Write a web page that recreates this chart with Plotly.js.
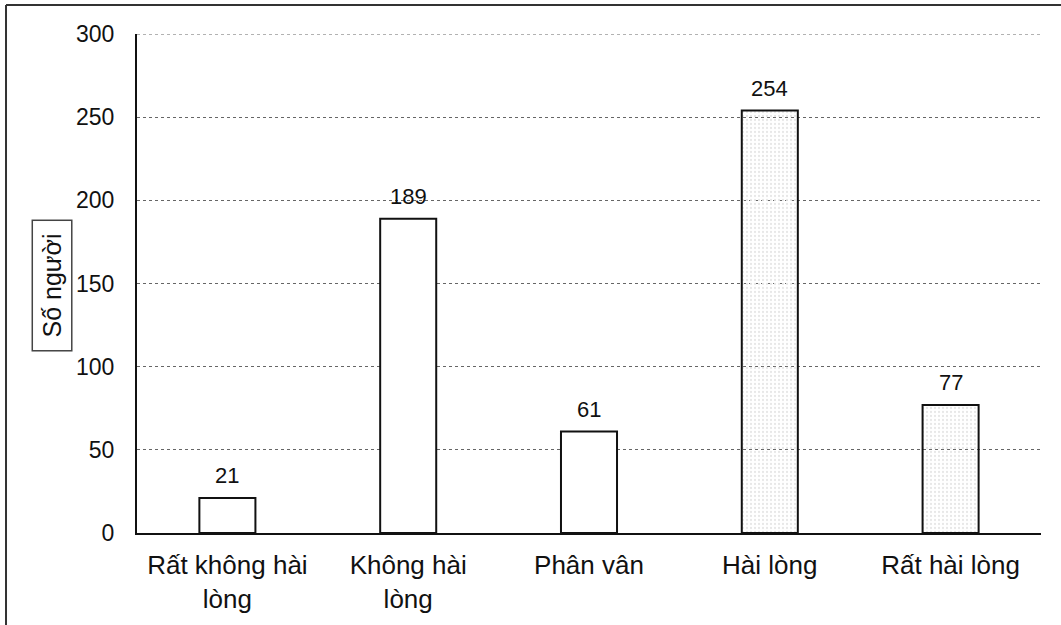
<!DOCTYPE html>
<html>
<head>
<meta charset="utf-8">
<script src="https://cdn.plot.ly/plotly-3.0.1.min.js"></script>
<style>
  html, body { margin: 0; padding: 0; background: #fff; }
  #chart { width: 1061px; height: 625px; }
</style>
</head>
<body>
<div id="chart"></div>
<script>
// Survey responses: number of people per satisfaction level
const categories = ['Rất không hài<br>lòng', 'Không hài<br>lòng', 'Phân vân', 'Hài lòng', 'Rất hài lòng'];
const counts = [21, 189, 61, 254, 77];
const barFills = ['#ffffff', '#ffffff', '#ffffff', '#e8e8e8', '#e8e8e8'];
const barPatterns = ['', '', '', '.', '.'];
const yTicks = [0, 50, 100, 150, 200, 250, 300];
const yTitle = 'Số người';

const FONT = 'Liberation Sans, Arial, sans-serif';
const GRID = { color: '#666', width: 1, dash: 'dot' };

const trace = {
  type: 'bar',
  x: categories,
  y: counts,
  marker: {
    color: barFills,
    line: { color: '#111', width: 2 },
    pattern: { shape: barPatterns, fgcolor: '#aaaaaa', bgcolor: '#ececec', size: 4, solidity: 0.25 }
  },
  hoverinfo: 'x+y'
};

// value labels sitting above each bar
const valueLabels = categories.map((c, i) => ({
  x: c, y: counts[i], xref: 'x', yref: 'y',
  text: String(counts[i]), showarrow: false,
  yanchor: 'bottom', yshift: 8,
  font: { family: FONT, size: 22, color: '#111' }
}));

// boxed, rotated y-axis title
const titleBox = {
  x: -0.094, y: 0.496, xref: 'paper', yref: 'paper',
  xanchor: 'center', yanchor: 'middle',
  text: yTitle, showarrow: false, textangle: -90,
  width: 129, height: 38, borderpad: 0,
  bordercolor: '#444', borderwidth: 1.5,
  font: { family: FONT, size: 25, color: '#111' }
};

const layout = {
  width: 1061, height: 625,
  margin: { l: 137, r: 20, t: 34, b: 92 },
  paper_bgcolor: '#fff', plot_bgcolor: '#fff',
  showlegend: false,
  bargap: 0.69,
  font: { family: FONT, color: '#111' },
  xaxis: {
    type: 'category',
    showline: true, linecolor: '#111', linewidth: 2,
    showgrid: false, zeroline: false, ticks: '',
    ticklabelstandoff: 8,
    tickfont: { family: FONT, size: 26, color: '#111' }
  },
  yaxis: {
    range: [0, 300],
    tickvals: yTicks,
    showline: true, linecolor: '#111', linewidth: 2,
    showgrid: true, gridcolor: GRID.color, griddash: GRID.dash, gridwidth: GRID.width,
    zeroline: false, ticks: '',
    ticklabelstandoff: 16,
    tickfont: { family: FONT, size: 23, color: '#111' }
  },
  annotations: valueLabels.concat([titleBox]),
  shapes: [
    // top gridline at the range maximum
    { type: 'line', xref: 'paper', yref: 'y', x0: 0, x1: 1, y0: yTicks[yTicks.length - 1], y1: yTicks[yTicks.length - 1],
      line: GRID, layer: 'below' },
    // outer frame: top and left edges
    { type: 'line', xref: 'paper', yref: 'paper', x0: -0.1449, x1: 1.03, y0: 1.058, y1: 1.058,
      line: { color: '#333', width: 2 } },
    { type: 'line', xref: 'paper', yref: 'paper', x0: -0.1449, x1: -0.1449, y0: 1.058, y1: -0.2,
      line: { color: '#333', width: 2 } }
  ]
};

Plotly.newPlot('chart', [trace], layout, { staticPlot: true, displayModeBar: false });
</script>
</body>
</html>
